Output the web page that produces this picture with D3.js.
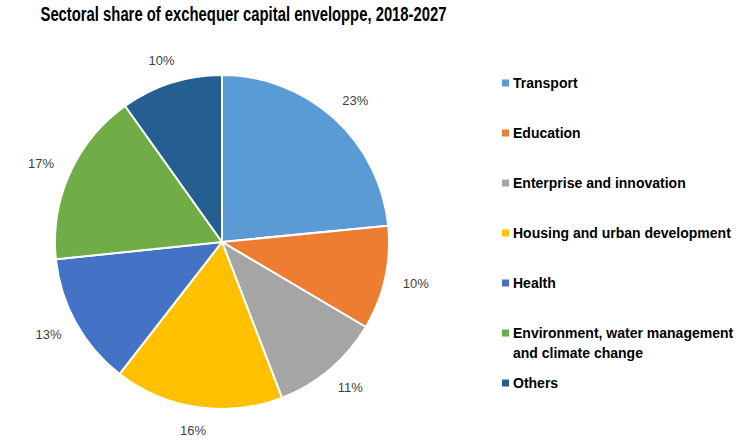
<!DOCTYPE html>
<html>
<head>
<meta charset="utf-8">
<script src="https://cdn.jsdelivr.net/npm/d3@7"></script>
<style>
  html, body { margin: 0; padding: 0; background: #fff; }
  svg { display: block; }
</style>
</head>
<body>
<svg id="chart" width="752" height="446"></svg>
<script>
const title = "Sectoral share of exchequer capital enveloppe, 2018-2027";
const categories = ["Transport", "Education", "Enterprise and innovation", "Housing and urban development", "Health", "Environment, water management and climate change", "Others"];
const legendLines = [["Transport"], ["Education"], ["Enterprise and innovation"], ["Housing and urban development"], ["Health"], ["Environment, water management", "and climate change"], ["Others"]];
const values = [23.45, 10.05, 10.65, 16.35, 12.85, 16.8, 9.85];
const colors = ["#5B9BD5", "#ED7D31", "#A5A5A5", "#FFC000", "#4472C4", "#70AD47", "#255E91"];

const svg = d3.select("#chart");
const cx = 222, cy = 242, r = 167;

svg.append("text")
  .attr("x", 243.5).attr("y", 21)
  .attr("text-anchor", "middle")
  .attr("font-family", "Liberation Sans, Arial, sans-serif")
  .attr("font-weight", "bold")
  .attr("font-size", 19.5)
  .attr("textLength", 406)
  .attr("lengthAdjust", "spacingAndGlyphs")
  .attr("fill", "#000")
  .text(title);

const pie = d3.pie().sort(null).value(d => d);
const arcs = pie(values);
const arc = d3.arc().innerRadius(0).outerRadius(r);
const labelR = r + 17.5, hw = 14, hh = 6;

const g = svg.append("g").attr("transform", `translate(${cx},${cy})`);
g.selectAll("path").data(arcs).join("path")
  .attr("d", arc)
  .attr("fill", (d, i) => colors[i])
  .attr("stroke", "#fff")
  .attr("stroke-width", 2)
  .attr("stroke-linejoin", "round");

g.selectAll("text.lbl").data(arcs).join("text")
  .attr("class", "lbl")
  .attr("transform", d => {
    const a = (d.startAngle + d.endAngle) / 2;
    const s = Math.sin(a), c = Math.cos(a);
    return `translate(${labelR * s + hw * s},${-labelR * c - hh * c})`;
  })
  .attr("text-anchor", "middle")
  .attr("dy", "0.35em")
  .attr("font-family", "Liberation Sans, Arial, sans-serif")
  .attr("font-size", 13)
  .attr("fill", "#404040")
  .text(d => Math.round(d.data) + "%");

// Legend
const legendY = d3.scalePoint().domain(d3.range(categories.length)).range([83, 383]);
const lg = svg.append("g");
categories.forEach((c, i) => {
  let y = legendY(i);
  if (i === 5) y = 333;
  lg.append("rect")
    .attr("x", 502).attr("y", y - 3.5)
    .attr("width", 7).attr("height", 7)
    .attr("fill", colors[i]);
  const t = lg.append("text")
    .attr("x", 513).attr("y", y + 5)
    .attr("font-family", "Liberation Sans, Arial, sans-serif")
    .attr("font-weight", "bold")
    .attr("font-size", 14)
    .attr("fill", "#000");
  legendLines[i].forEach((line, k) => {
    t.append("tspan").attr("x", 513).attr("dy", k === 0 ? 0 : 20).text(line);
  });
});
</script>
</body>
</html>
